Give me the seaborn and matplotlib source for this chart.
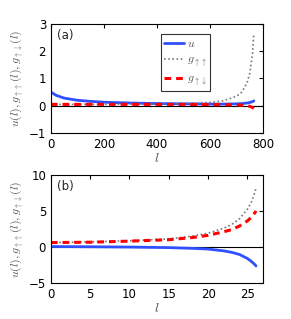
import numpy as np
import pandas as pd
import matplotlib
matplotlib.use("Agg")
import matplotlib.pyplot as plt
import seaborn as sns

# === DATOS (a) ===
l_a = [0, 20, 50, 100, 150, 200, 300, 400, 500, 600, 650, 700, 720, 740, 750, 760, 765]
u_a = [0.5, 0.38, 0.28, 0.2, 0.16, 0.13, 0.1, 0.08, 0.07, 0.06, 0.06, 0.07, 0.08, 0.1, 0.12, 0.15, 0.18]
guu_a = [0.05, 0.05, 0.05, 0.05, 0.05, 0.05, 0.06, 0.06, 0.08, 0.12, 0.18, 0.35, 0.5, 0.85, 1.2, 1.9, 2.6]
gud_a = [0.05, 0.05, 0.05, 0.05, 0.05, 0.05, 0.05, 0.05, 0.05, 0.04, 0.04, 0.03, 0.02, 0.0, -0.02, -0.06, -0.1]

# === DATOS (b) ===
l_b = [0, 5, 10, 15, 18, 20, 22, 23, 24, 25, 25.5, 26, 26.1]
u_b = [0.05, 0.02, -0.02, -0.1, -0.2, -0.3, -0.55, -0.75, -1.05, -1.6, -2.0, -2.5, -2.65]
guu_b = [0.6, 0.7, 0.85, 1.1, 1.5, 1.9, 2.6, 3.1, 3.9, 5.2, 6.2, 7.7, 8.3]
gud_b = [0.6, 0.65, 0.8, 1.0, 1.3, 1.6, 2.1, 2.4, 2.9, 3.6, 4.1, 4.8, 5.0]

sns.set_style("white")
plt.rcParams["font.family"] = ["DejaVu Sans"]
plt.rcParams["mathtext.fontset"] = "cm"

fig = plt.figure(figsize=(2.91, 3.19), dpi=100)
ax_a = fig.add_axes([0.175, 0.583, 0.729, 0.342])
ax_b = fig.add_axes([0.175, 0.113, 0.729, 0.339])

ylabel = r"$u(l),g_{\uparrow\uparrow}(l),g_{\uparrow\downarrow}(l)$"
gray = "#555555"


def draw(ax, l, u, guu, gud, xlim, ylim, xticks, yticks, tag, legend):
    sns.lineplot(x=l, y=u, ax=ax, color="#3050ff", linewidth=2.0, label=r"$u$")
    sns.lineplot(x=l, y=guu, ax=ax, color="#777777", linewidth=1.2,
                 linestyle=(0, (1, 1.5)), label=r"$g_{\uparrow\uparrow}$")
    sns.lineplot(x=l, y=gud, ax=ax, color="red", linewidth=2.2,
                 linestyle=(0, (2.2, 1.6)), label=r"$g_{\uparrow\downarrow}$")
    ax.axhline(0, color="black", linewidth=0.8, zorder=0)
    ax.set_xlim(*xlim)
    ax.set_ylim(*ylim)
    ax.set_xticks(xticks)
    ax.set_yticks(yticks)
    ax.tick_params(direction="in", length=3, labelsize=8.5, colors="black",
                   top=True, right=True)
    for s in ax.spines.values():
        s.set_color("black")
        s.set_linewidth(0.8)
    ax.set_xlabel(r"$l$", fontsize=10, color=gray, labelpad=0)
    ax.set_ylabel(ylabel, fontsize=8.5, color=gray, labelpad=2)
    ax.text(0.03, 0.95, tag, transform=ax.transAxes, fontsize=8.5, va="top")
    if legend:
        leg = ax.legend(loc="upper left", bbox_to_anchor=(0.52, 0.905), fontsize=8.5,
                        frameon=True, fancybox=False, handlelength=1.7,
                        borderpad=0.25, labelspacing=0.25, handletextpad=0.2,
                        borderaxespad=0)
        leg.get_frame().set_edgecolor("black")
        leg.get_frame().set_linewidth(0.8)
        for t in leg.get_texts():
            t.set_color(gray)
    else:
        ax.get_legend().remove()


draw(ax_a, l_a, u_a, guu_a, gud_a, (0, 800), (-1, 3), [0, 200, 400, 600, 800],
     [-1, 0, 1, 2, 3], "(a)", True)
draw(ax_b, l_b, u_b, guu_b, gud_b, (0, 27), (-5, 10), [0, 5, 10, 15, 20, 25],
     [-5, 0, 5, 10], "(b)", False)

fig.savefig("out.png", dpi=100)
